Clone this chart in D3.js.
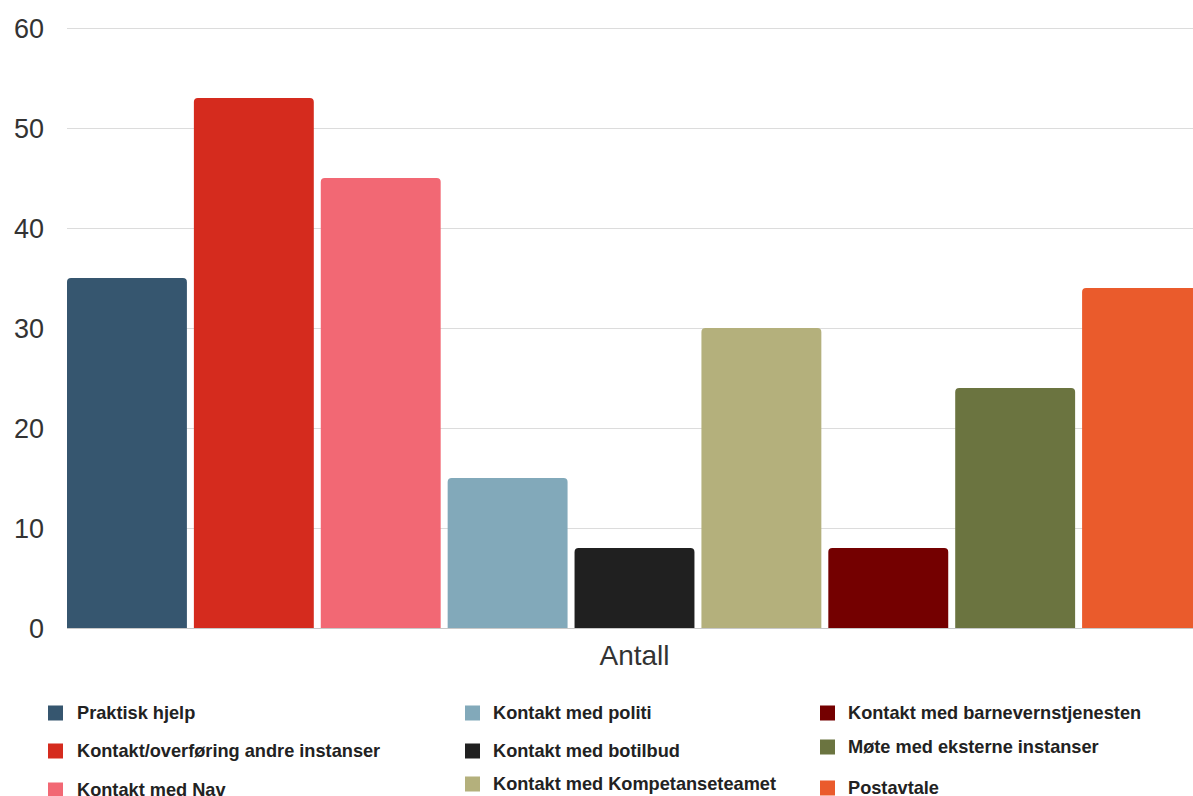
<!DOCTYPE html>
<html>
<head>
<meta charset="utf-8">
<script src="https://cdn.jsdelivr.net/npm/d3@7"></script>
<style>
  html, body { margin: 0; padding: 0; background: #fff; overflow: hidden; }
  svg { display: block; font-family: "Liberation Sans", Arial, sans-serif; }
</style>
</head>
<body>
<svg id="chart"></svg>
<script>
// chart values
const categories = [
    'Praktisk hjelp',
    'Kontakt/overføring andre instanser',
    'Kontakt med Nav',
    'Kontakt med politi',
    'Kontakt med botilbud',
    'Kontakt med Kompetanseteamet',
    'Kontakt med barnevernstjenesten',
    'Møte med eksterne instanser',
    'Postavtale'
];
const values = [35, 53, 45, 15, 8, 30, 8, 24, 34];
const colors = ['#36566f', '#d52b1e', '#f26874', '#82a9ba', '#202020', '#b4b07c', '#740000', '#6b7440', '#ea5b2c'];
const yTicks = [0, 10, 20, 30, 40, 50, 60];
const axisTitle = 'Antall';

const width = 1193, height = 796;
const margin = { top: 28, left: 67, bottom: 168 };
const plotRight = 1202;   // the plot runs a little past the window edge
const plotBottom = height - margin.bottom;

const svg = d3.select('#chart')
    .attr('width', width)
    .attr('height', height);

const x = d3.scaleBand()
    .domain(categories)
    .range([margin.left, plotRight])
    .paddingInner(0.055)
    .paddingOuter(0);

const y = d3.scaleLinear()
    .domain([0, 60])
    .range([plotBottom, margin.top]);

// gridlines
svg.append('g')
    .selectAll('line')
    .data(yTicks)
    .join('line')
    .attr('x1', margin.left)
    .attr('x2', plotRight + 10)
    .attr('y1', d => y(d) + 0.5)
    .attr('y2', d => y(d) + 0.5)
    .attr('stroke', d => d === 0 ? '#c8c8c8' : '#dcdcdc')
    .attr('stroke-width', 1);

// y tick labels
svg.append('g')
    .selectAll('text')
    .data(yTicks)
    .join('text')
    .attr('x', 44)
    .attr('y', d => y(d))
    .attr('dy', '0.36em')
    .attr('text-anchor', 'end')
    .attr('font-size', 27)
    .attr('fill', '#333')
    .text(d => d);

// bars with rounded top corners
const r = 4;
const barPath = (x0, w, yTop, yBase) =>
    `M${x0},${yBase}V${yTop + r}Q${x0},${yTop} ${x0 + r},${yTop}` +
    `H${x0 + w - r}Q${x0 + w},${yTop} ${x0 + w},${yTop + r}V${yBase}Z`;

svg.append('g')
    .selectAll('path')
    .data(categories)
    .join('path')
    .attr('d', (d, i) => barPath(x(d), x.bandwidth(), y(values[i]), y(0)))
    .attr('fill', (d, i) => colors[i]);

// axis title
svg.append('text')
    .attr('x', (margin.left + plotRight) / 2)
    .attr('y', 665)
    .attr('text-anchor', 'middle')
    .attr('font-size', 28)
    .attr('fill', '#333')
    .text(axisTitle);

// legend, three columns
const legendCols = [48, 465, 820];
const legendRows = [
    [713, 751, 790],
    [713, 751, 784],
    [713, 747, 788]
];
const legendItems = categories.map((d, i) => ({
    name: d,
    color: colors[i],
    col: Math.floor(i / 3),
    row: i % 3
}));

const legend = svg.append('g')
    .selectAll('g')
    .data(legendItems)
    .join('g')
    .attr('transform', d => `translate(${legendCols[d.col]},${legendRows[d.col][d.row]})`);

legend.append('rect')
    .attr('x', 0)
    .attr('y', -7.5)
    .attr('width', 15)
    .attr('height', 15)
    .attr('fill', d => d.color);

legend.append('text')
    .attr('x', d => d.col === 0 ? 29 : 28)
    .attr('y', 0)
    .attr('dy', '0.35em')
    .attr('font-size', 18.2)
    .attr('font-weight', 'bold')
    .attr('fill', '#222')
    .text(d => d.name);
</script>
</body>
</html>
